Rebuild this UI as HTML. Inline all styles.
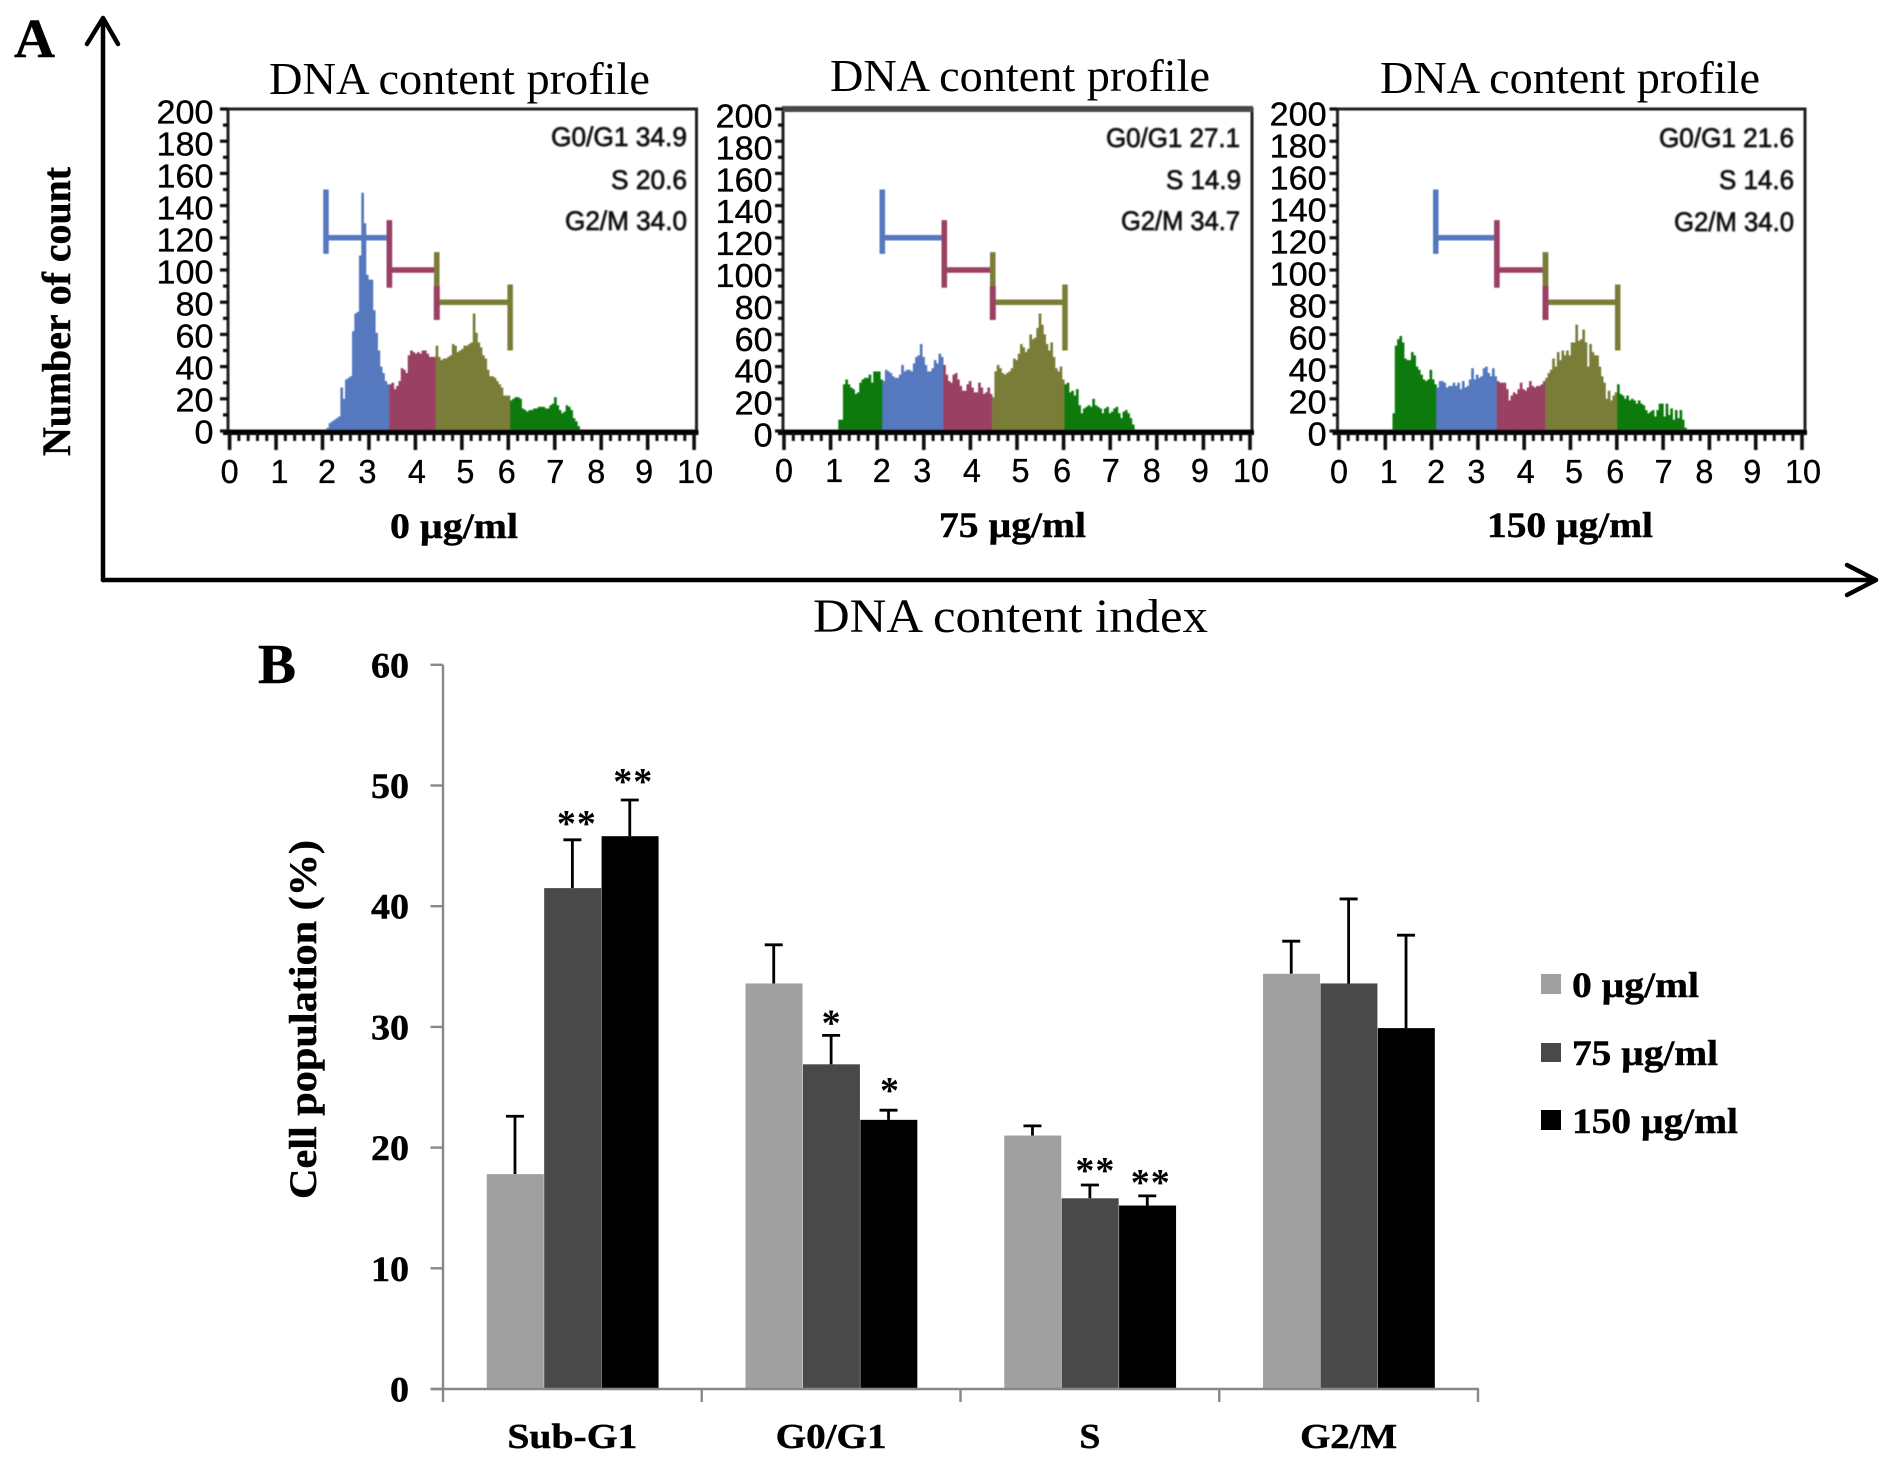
<!DOCTYPE html>
<html lang="en">
<head>
<meta charset="utf-8">
<title>DNA content profiles and cell population</title>
<style>
  html, body { margin: 0; padding: 0; background: #fff; }
  #figure { display: block; width: 1890px; height: 1462px; }
  .serif { font-family: "Liberation Serif", serif; }
  .sans { font-family: "Liberation Sans", sans-serif; }
  .b { font-weight: bold; stroke: #000; stroke-width: 0.45; }
</style>
</head>
<body>
<svg id="figure" xmlns="http://www.w3.org/2000/svg" width="1890" height="1462" viewBox="0 0 1890 1462">
  <defs>
    <filter id="soft" x="-5%" y="-5%" width="110%" height="110%"><feGaussianBlur stdDeviation="0.6"/></filter>
    <filter id="softer" x="-5%" y="-5%" width="110%" height="110%"><feGaussianBlur stdDeviation="0.9"/></filter>
    <filter id="faint" x="-5%" y="-5%" width="110%" height="110%"><feGaussianBlur stdDeviation="0.35"/></filter>
  </defs>
  <rect width="1890" height="1462" fill="#fff"/>

  <g class="serif" fill="#000" filter="url(#faint)">
    <text class="b" x="14" y="57" font-size="55" textLength="41" lengthAdjust="spacingAndGlyphs">A</text>
    <text class="b" x="258" y="683" font-size="56" textLength="38" lengthAdjust="spacingAndGlyphs">B</text>
    <text class="b" transform="translate(70,456) rotate(-90)" font-size="40" textLength="289" lengthAdjust="spacingAndGlyphs">Number of count</text>
    <text x="269" y="94" font-size="45" textLength="381" lengthAdjust="spacingAndGlyphs">DNA content profile</text>
    <text x="830" y="91" font-size="45" textLength="380" lengthAdjust="spacingAndGlyphs">DNA content profile</text>
    <text x="1380" y="93" font-size="45" textLength="380" lengthAdjust="spacingAndGlyphs">DNA content profile</text>
    <text class="b" x="390" y="538" font-size="36" textLength="128" lengthAdjust="spacingAndGlyphs">0 µg/ml</text>
    <text class="b" x="939" y="537" font-size="36" textLength="147" lengthAdjust="spacingAndGlyphs">75 µg/ml</text>
    <text class="b" x="1487" y="537" font-size="36" textLength="166" lengthAdjust="spacingAndGlyphs">150 µg/ml</text>
    <text x="813" y="632" font-size="48" textLength="395" lengthAdjust="spacingAndGlyphs">DNA content index</text>
    <text class="b" transform="translate(316,1199) rotate(-90)" font-size="39" textLength="359" lengthAdjust="spacingAndGlyphs">Cell population (%)</text>
  </g>

  <g stroke="#000" stroke-width="4.5" fill="none" stroke-linecap="round" stroke-linejoin="round">
    <path d="M103 580 V18 M87 44 L103 18 L118 44"/>
    <path d="M103 580 H1876 M1847 565 L1876 580 L1847 595"/>
  </g>

  <g id="panels"></g>

  <g class="sans" fill="#111" stroke="#111" stroke-width="0.7" font-size="27" text-anchor="end" filter="url(#softer)">
    <text x="687" y="146" textLength="136" lengthAdjust="spacingAndGlyphs">G0/G1 34.9</text>
    <text x="687" y="189" textLength="76" lengthAdjust="spacingAndGlyphs">S 20.6</text>
    <text x="687" y="230" textLength="122" lengthAdjust="spacingAndGlyphs">G2/M 34.0</text>
    <text x="1240" y="147" textLength="134" lengthAdjust="spacingAndGlyphs">G0/G1 27.1</text>
    <text x="1241" y="189" textLength="75" lengthAdjust="spacingAndGlyphs">S 14.9</text>
    <text x="1240" y="230" textLength="119" lengthAdjust="spacingAndGlyphs">G2/M 34.7</text>
    <text x="1794" y="147" textLength="135" lengthAdjust="spacingAndGlyphs">G0/G1 21.6</text>
    <text x="1794" y="189" textLength="75" lengthAdjust="spacingAndGlyphs">S 14.6</text>
    <text x="1794" y="231" textLength="120" lengthAdjust="spacingAndGlyphs">G2/M 34.0</text>
  </g>

  <g id="bars" filter="url(#faint)"></g>

  <g class="serif" font-size="36" fill="#000" filter="url(#faint)">
    <rect x="1541" y="974" width="20" height="20" fill="#a0a0a0"/>
    <text class="b" x="1572" y="997" textLength="127" lengthAdjust="spacingAndGlyphs">0 µg/ml</text>
    <rect x="1541" y="1043" width="20" height="19" fill="#4a4a4a"/>
    <text class="b" x="1572" y="1065" textLength="146" lengthAdjust="spacingAndGlyphs">75 µg/ml</text>
    <rect x="1541" y="1110" width="20" height="20" fill="#000"/>
    <text class="b" x="1572" y="1133" textLength="166" lengthAdjust="spacingAndGlyphs">150 µg/ml</text>
  </g>
</svg>

<script>
// ---- Panel A data: cell counts per 0.05-wide DNA index bin ----
const histStart0 = 2.11;
const histStart75 = 1.19;
const histStart150 = 1.18;
const histBinWidth = 0.05;
const histCounts0 = [2,5,6,7,8,9,27,20,32,33,34,62,73,74,109,148,129,97,94,94,75,61,50,40,36,31,29,
  29,30,26,28,31,39,38,36,47,50,49,48,49,48,50,50,48,46,46,46,
  53,46,44,45,45,46,47,54,53,49,50,51,53,53,54,55,73,61,55,52,47,45,38,34,34,33,31,29,27,22,22,22,
  19,20,21,21,20,14,13,12,13,13,14,14,15,15,15,14,14,16,17,21,16,13,11,12,16,15,13,8,6,3,1];
const histCounts75 = [7,7,29,32,29,27,26,23,24,30,32,33,33,35,30,37,37,37,32,31,
  38,37,36,34,33,33,35,41,37,38,38,37,42,46,47,54,46,41,37,37,39,44,42,48,46,41,
  35,31,30,35,36,32,28,25,25,29,31,27,24,24,30,27,23,24,27,23,21,
  37,41,39,36,35,36,37,39,45,44,48,54,52,49,51,60,57,58,64,73,66,60,54,50,55,46,39,37,40,32,
  29,30,24,25,22,26,16,11,14,15,16,15,20,16,15,14,11,14,15,11,12,14,15,11,8,12,13,11,8,4,1];
const histCounts150 = [11,53,57,59,55,45,44,44,49,47,40,38,35,32,31,32,38,32,29,
  27,31,31,30,27,28,28,30,28,30,26,31,27,28,32,39,32,35,33,34,39,40,36,34,39,34,
  31,30,30,30,26,19,22,24,23,26,30,26,25,27,31,28,27,28,28,29,31,
  33,36,38,45,40,49,44,50,47,50,47,55,55,66,56,57,63,55,40,54,49,47,47,40,34,30,20,25,19,22,24,
  29,23,22,20,22,19,20,19,17,19,17,16,13,11,12,13,9,13,17,17,9,17,10,14,7,13,8,13,7,2];
const gateEdges0 = [2.075, 3.44, 4.46, 6.04];
const gateEdges75 = [2.11, 3.44, 4.48, 6.03];
const gateEdges150 = [2.09, 3.41, 4.46, 6.02];
const countTicks = [200,180,160,140,120,100,80,60,40,20,0];
const indexTicks = [0,1,2,3,4,5,6,7,8,9,10];

// ---- Panel B data ----
const barCategories = ["Sub-G1","G0/G1","S","G2/M"];
const barTicks = [60,50,40,30,20,10,0];
const means0 = [17.8,33.6,21.0,34.4];
const means75 = [41.5,26.9,15.8,33.6];
const means150 = [45.8,22.3,15.2,29.9];
const errTop0 = [22.6,36.8,21.8,37.1];
const errTop75 = [45.5,29.3,16.9,40.6];
const errTop150 = [48.8,23.1,16.0,37.6];
const signif0 = ["","","",""];
const signif75 = ["**","*","**",""];
const signif150 = ["**","*","**",""];

const NS = "http://www.w3.org/2000/svg";
function add(parent, tag, attrs, text) {
  const el = document.createElementNS(NS, tag);
  for (const k in attrs) el.setAttribute(k, attrs[k]);
  if (text !== undefined) el.textContent = text;
  parent.appendChild(el);
  return el;
}

const BLUE = "#5578bf", RED = "#9a3f62", OLIVE = "#7a7d38", GREEN = "#0a7a0a";

function drawPanel(root, cfg) {
  const xS = v => cfg.x0 + v * cfg.unit;
  const yS = c => cfg.y0 - c * (cfg.y0 - cfg.y200) / 200;
  const g = add(root, "g", {filter: "url(#soft)"});
  
  

  // histogram bins
  cfg.counts.forEach((c, i) => {
    const v = cfg.start + i * histBinWidth;
    let fill = GREEN;
    if (v >= cfg.gates[0] && v < cfg.gates[1]) fill = BLUE;
    else if (v >= cfg.gates[1] && v < cfg.gates[2]) fill = RED;
    else if (v >= cfg.gates[2] && v < cfg.gates[3]) fill = OLIVE;
    const left = xS(v - histBinWidth / 2);
    const r = add(g, "rect", {x: left, y: yS(c), width: histBinWidth * cfg.unit + 0.35, height: Math.max(0, cfg.y0 - yS(c)), fill: fill});
    
    
  });

  // gate markers
  const gateDefs = [
    {a: cfg.gates[0], b: cfg.gates[1], level: 120, color: BLUE, la: [110,150], lb: [90,130]},
    {a: cfg.gates[1], b: cfg.gates[2], level: 100, color: RED, la: [89,131], lb: [69,111]},
    {a: cfg.gates[2], b: cfg.gates[3], level: 80, color: OLIVE, la: [90,111], lb: [50,91]}
  ];
  gateDefs.forEach(d => {
    const p = add(g, "path", {
      d: "M" + xS(d.a) + " " + yS(d.la[0]) + " V" + yS(d.la[1]) +
         " M" + xS(d.a) + " " + yS(d.level) + " H" + xS(d.b) +
         " M" + xS(d.b) + " " + yS(d.lb[0]) + " V" + yS(d.lb[1]),
      stroke: d.color, "stroke-width": 5.5, fill: "none"
    });
    
    
  });
  // lower half of the red and olive shared edges
  const edge = add(g, "path", {d: "M" + xS(cfg.gates[2]) + " " + yS(69) + " V" + yS(90), stroke: RED, "stroke-width": 6, fill: "none"});
  
  

  // frame
  const frame = add(g, "rect", {x: cfg.left, y: cfg.y200, width: cfg.right - cfg.left, height: cfg.y0 - cfg.y200, fill: "none", stroke: "#222", "stroke-width": 3});
  
  
  const topEdge = add(g, "line", {x1: cfg.left - 1, x2: cfg.right + 1, y1: cfg.y200, y2: cfg.y200, stroke: cfg.topColor, "stroke-width": cfg.topW});
  
  
  const base = add(g, "line", {x1: cfg.left - 5, x2: cfg.right + 2, y1: cfg.y0 + 1.5, y2: cfg.y0 + 1.5, stroke: "#000", "stroke-width": 5});
  
  

  // y ticks
  for (let c = 0; c <= 200; c += 10) {
    const major = c % 20 === 0;
    const t = add(g, "line", {x1: cfg.left - (major ? 8 : 5), x2: cfg.left, y1: yS(c), y2: yS(c), stroke: "#111", "stroke-width": 3.2});
    
    
  }
  // x ticks: minors every 0.2, majors every 1
  for (let k = 0; k <= 50; k++) {
    const major = k % 5 === 0;
    const t = add(g, "line", {x1: xS(k / 5), x2: xS(k / 5), y1: cfg.y0 + 2, y2: cfg.y0 + (major ? 19 : 10), stroke: "#111", "stroke-width": major ? 3.6 : 3});
    
    
  }

  // tick labels
  const labelGroup = add(root, "g", {class: "sans", fill: "#000", stroke: "#000", "stroke-width": 0.35, "font-size": 33, filter: "url(#faint)"});
  
  
  countTicks.forEach(c => {
    const s = String(c);
    const f = c / 200;
    const yy = cfg.labelBottom + (cfg.labelTop - cfg.labelBottom) * f + 11.5;
    const t = add(labelGroup, "text", {x: cfg.labelEnd, y: yy, "text-anchor": "end", textLength: s.length * 19, lengthAdjust: "spacingAndGlyphs"}, s);
    
    
  });
  const nudge = [0,3.5,4.5,-1.5,1.5,3.5,-1.5,0.5,-5,-3.5,1];
  indexTicks.forEach((v, i) => {
    const s = String(v);
    const t = add(labelGroup, "text", {x: xS(v) + nudge[i], y: cfg.labelBase, "text-anchor": "middle", textLength: s.length * 18, lengthAdjust: "spacingAndGlyphs"}, s);
    
    
  });
}

const panelRoot = document.getElementById("panels");
drawPanel(panelRoot, {counts: histCounts0, start: histStart0, gates: gateEdges0, x0: 229.6, unit: 46.45, left: 228, right: 696.5, y0: 431, y200: 109, topW: 3, topColor: "#222", labelEnd: 213.5, labelTop: 112, labelBottom: 432, labelBase: 483});
drawPanel(panelRoot, {counts: histCounts75, start: histStart75, gates: gateEdges75, x0: 784, unit: 46.6, left: 783, right: 1252, y0: 431, y200: 109, topW: 6, topColor: "#4a4a4a", labelEnd: 772.7, labelTop: 116, labelBottom: 435, labelBase: 482});
drawPanel(panelRoot, {counts: histCounts150, start: histStart150, gates: gateEdges150, x0: 1339, unit: 46.3, left: 1337.5, right: 1805, y0: 431, y200: 109, topW: 3, topColor: "#222", labelEnd: 1326.7, labelTop: 114, labelBottom: 434, labelBase: 483});

// ---- Bar chart ----
(function () {
  const root = document.getElementById("bars");
  const axisX = 443, axisRight = 1478, y0 = 1389, perUnit = 12.07;
  const catW = (axisRight - axisX) / barCategories.length;
  const barW = 57, barStep = 57.4;
  const yS = v => y0 - v * perUnit;
  const xC = (i, s) => axisX + (i + 0.5) * catW + (s - 1) * barStep;
  const series = [
    {means: means0, err: errTop0, sig: signif0, color: "#a0a0a0"},
    {means: means75, err: errTop75, sig: signif75, color: "#4a4a4a"},
    {means: means150, err: errTop150, sig: signif150, color: "#000"}
  ];
  // small per-marker hand-placement offsets seen in the figure
  const starLift = {"1-0": 2, "2-0": 4, "1-1": -2, "2-1": 5, "1-2": 0, "2-2": -1};
  const starShift = {"1-0": 4, "2-0": 3, "1-1": 0, "2-1": 1, "1-2": 5, "2-2": 3};

  series.forEach((s, si) => {
    s.means.forEach((v, i) => {
      const cx = xC(i, si);
      const errLine = add(root, "path", {d: "M" + cx + " " + yS(v) + " V" + yS(s.err[i]) + " M" + (cx - 9) + " " + yS(s.err[i]) + " H" + (cx + 9), stroke: "#000", "stroke-width": 2.8, fill: "none"});
      
      
      const bar = add(root, "rect", {x: cx - barW / 2 + 0.3, y: yS(v), width: barW, height: y0 - yS(v), fill: s.color});
      
      
      if (s.sig[i]) {
        const key = si + "-" + i;
        const attrs = {x: cx + starShift[key], y: yS(s.err[i]) - 2 - starLift[key], "text-anchor": "middle", "font-size": 38, "font-weight": "bold", "font-family": '"Liberation Serif", serif', fill: "#000"};
        if (s.sig[i].length > 1) { attrs.textLength = 39; attrs.lengthAdjust = "spacing"; }
        const st = add(root, "text", attrs, s.sig[i]);
        
        
      }
    });
  });

  const yAxis = add(root, "line", {x1: axisX, x2: axisX, y1: yS(60), y2: y0, stroke: "#888", "stroke-width": 2.4});
  
  
  const xAxis = add(root, "line", {x1: 430.5, x2: axisRight + 1, y1: y0, y2: y0, stroke: "#888", "stroke-width": 2.4});
  
  

  barTicks.forEach(v => {
    const t = add(root, "line", {x1: 430.5, x2: axisX, y1: yS(v), y2: yS(v), stroke: "#888", "stroke-width": 2.4});
    
    
    const s = String(v);
    const l = add(root, "text", {x: 409, y: yS(v) + 12.5, "text-anchor": "end", "font-size": 36, "font-weight": "bold", "font-family": '"Liberation Serif", serif', fill: "#000", stroke: "#000", "stroke-width": 0.45, textLength: s.length * 19, lengthAdjust: "spacingAndGlyphs"}, s);
    
    
  });

  for (let i = 0; i <= barCategories.length; i++) {
    const tx = axisX + i * catW;
    const t = add(root, "line", {x1: tx, x2: tx, y1: y0, y2: y0 + 13, stroke: "#888", "stroke-width": 2.4});
    
    
  }

  const catWidths = {"Sub-G1": 130, "G0/G1": 111, "S": 21, "G2/M": 97};
  barCategories.forEach((c, i) => {
    const l = add(root, "text", {x: xC(i, 1), y: 1448, "text-anchor": "middle", "font-size": 35, "font-weight": "bold", "font-family": '"Liberation Serif", serif', fill: "#000", stroke: "#000", "stroke-width": 0.45, textLength: catWidths[c], lengthAdjust: "spacingAndGlyphs"}, c);
    
    
  });
})();
</script>
</body>
</html>
